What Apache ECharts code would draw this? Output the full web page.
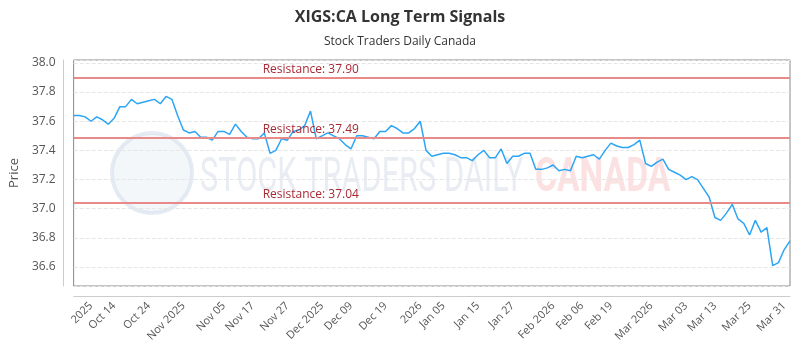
<!DOCTYPE html>
<html lang="en">
<head>
  <meta charset="UTF-8">
  <title>XIGS:CA Long Term Signals</title>
  <style>
    * { margin: 0; padding: 0; }
    #chart { width: 800px; height: 350px; }
  </style>
</head>
<body>
  <div id="chart"></div>
  <script src="https://cdn.jsdelivr.net/npm/echarts@6/dist/echarts.min.js"></script>
  <script>
    // closing prices, one per trading day
    const prices = [
      37.64, 37.64, 37.63, 37.60, 37.63, 37.61, 37.58, 37.62, 37.70, 37.70,
      37.75, 37.72, 37.73, 37.74, 37.75, 37.72, 37.77, 37.75, 37.64, 37.54,
      37.52, 37.53, 37.49, 37.49, 37.47, 37.53, 37.53, 37.51, 37.58, 37.53,
      37.49, 37.48, 37.48, 37.52, 37.38, 37.40, 37.48, 37.47, 37.53, 37.54,
      37.57, 37.67, 37.48, 37.50, 37.52, 37.50, 37.48, 37.44, 37.41, 37.50,
      37.50, 37.49, 37.48, 37.53, 37.53, 37.57, 37.55, 37.52, 37.52, 37.55,
      37.60, 37.40, 37.36, 37.37, 37.38, 37.38, 37.37, 37.35, 37.35, 37.33,
      37.37, 37.40, 37.35, 37.35, 37.41, 37.31, 37.36, 37.36, 37.38, 37.38,
      37.27, 37.27, 37.28, 37.30, 37.26, 37.27, 37.26, 37.36, 37.35, 37.36,
      37.37, 37.34, 37.40, 37.45, 37.43, 37.42, 37.42, 37.44, 37.47, 37.31,
      37.29, 37.32, 37.34, 37.27, 37.25, 37.23, 37.20, 37.22, 37.20, 37.14,
      37.08, 36.94, 36.92, 36.97, 37.03, 36.93, 36.90, 36.82, 36.92, 36.84,
      36.87, 36.61, 36.63, 36.72, 36.78
    ];

    // x axis labels and the day index they sit on
    const tickLabels = ['2025', 'Oct 14', 'Oct 24', 'Nov 2025', 'Nov 05', 'Nov 17', 'Nov 27',
      'Dec 2025', 'Dec 09', 'Dec 19', '2026', 'Jan 05', 'Jan 15', 'Jan 27', 'Feb 2026',
      'Feb 06', 'Feb 19', 'Mar 2026', 'Mar 03', 'Mar 13', 'Mar 25', 'Mar 31'];
    const tickIdx = [3, 7, 13, 19, 26, 31, 37, 43, 48, 54, 60, 64, 70, 76, 83, 88, 93, 100, 106, 111, 117, 123];

    const resistance = [37.90, 37.49, 37.04];

    const categories = prices.map(() => '');
    tickIdx.forEach((idx, k) => { categories[idx] = tickLabels[k]; });

    const chart = echarts.init(document.getElementById('chart'));
    const font = 'Open Sans';

    chart.setOption({
      animation: false,
      title: {
        text: 'XIGS:CA Long Term Signals',
        subtext: 'Stock Traders Daily Canada',
        left: 'center',
        top: 4,
        itemGap: 11,
        textStyle: { fontFamily: font, fontSize: 16, fontWeight: 'bold', color: '#333' },
        subtextStyle: { fontFamily: font, fontSize: 12, color: '#333' }
      },
      // faint watermark behind the plot
      graphic: [
        {
          type: 'circle',
          shape: { cx: 152, cy: 173, r: 40 },
          style: { fill: 'rgba(228,234,243,0.4)', stroke: 'rgba(218,226,238,0.7)', lineWidth: 4 },
          silent: true,
          z: 0
        },
        {
          type: 'text',
          x: 200,
          y: 179,
          scaleX: 0.64,
          style: {
            text: 'STOCK TRADERS DAILY', fontFamily: 'Roboto', fontSize: 48,
            verticalAlign: 'middle', fill: '#e9edf3'
          },
          silent: true,
          z: 0
        },
        {
          type: 'text',
          x: 535,
          y: 179,
          scaleX: 0.7,
          style: {
            text: 'CANADA', fontFamily: 'Roboto', fontSize: 48, fontWeight: 'bold',
            verticalAlign: 'middle', fill: '#fbe1e1'
          },
          silent: true,
          z: 0
        }
      ],
      grid: {
        left: 70,
        right: 10,
        top: 60,
        bottom: 64,
        show: true,
        borderColor: '#888',
        borderWidth: 1,
        backgroundColor: 'transparent'
      },
      xAxis: {
        type: 'category',
        data: categories,
        boundaryGap: false,
        offset: 10,
        axisLine: { lineStyle: { color: '#ccc' } },
        axisTick: { show: false },
        axisLabel: {
          interval: 0,
          rotate: 45,
          margin: 8,
          fontFamily: font,
          fontSize: 11,
          color: '#555'
        },
        splitLine: { show: false }
      },
      yAxis: {
        type: 'value',
        name: 'Price',
        nameLocation: 'middle',
        nameGap: 41,
        nameTextStyle: { fontFamily: font, fontSize: 13, color: '#555' },
        min: 36.47,
        max: 38.02,
        splitNumber: 7,
        offset: 10,
        axisLine: { show: true, lineStyle: { color: '#ccc' } },
        axisTick: { show: false },
        axisLabel: {
          showMinLabel: false,
          showMaxLabel: false,
          margin: 8,
          fontFamily: font,
          fontSize: 12,
          color: '#555',
          formatter: v => v.toFixed(1)
        },
        splitLine: { lineStyle: { color: '#e6e6e6', type: 'dashed' } }
      },
      series: [
        {
          type: 'line',
          data: prices,
          showSymbol: false,
          lineStyle: { color: '#2da5f5', width: 1.5 },
          itemStyle: { color: '#2da5f5' },
          z: 3,
          markLine: {
            silent: true,
            symbol: 'none',
            lineStyle: { color: '#e88a8a', width: 2, type: 'solid' },
            label: {
              position: 'insideStartTop',
              distance: [189, 2],
              fontFamily: font,
              fontSize: 12,
              color: '#a82a35',
              formatter: p => 'Resistance: ' + p.value.toFixed(2)
            },
            data: resistance.map(v => ({ yAxis: v }))
          }
        }
      ]
    });
  </script>
</body>
</html>
